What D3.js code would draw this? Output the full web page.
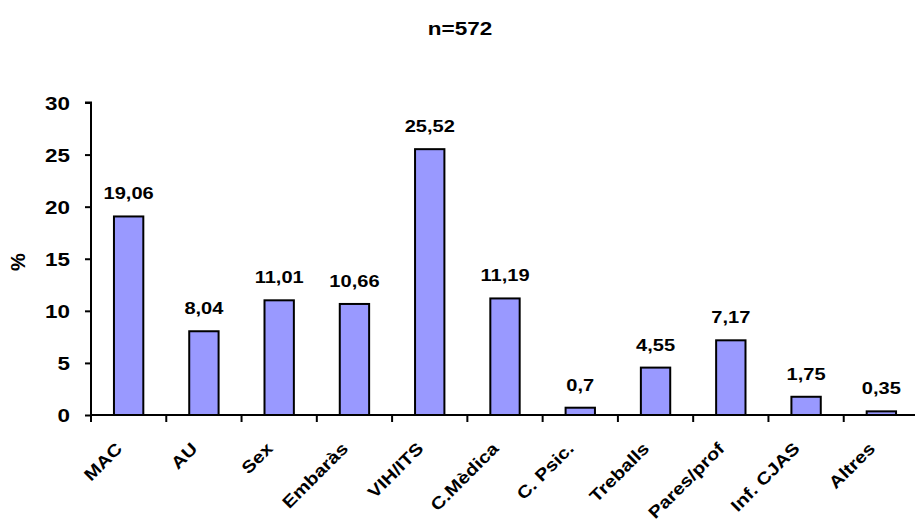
<!DOCTYPE html>
<html>
<head>
<meta charset="utf-8">
<script src="https://cdn.jsdelivr.net/npm/d3@7"></script>
<style>
  html, body { margin: 0; padding: 0; background: #fff; }
  svg { display: block; }
  text { font-family: "Liberation Sans", Arial, sans-serif; font-weight: bold; fill: #000; }
</style>
</head>
<body>
<svg id="chart" width="915" height="522"></svg>
<script>
const categories = ["MAC", "AU", "Sex", "Embaràs", "VIH/ITS", "C.Mèdica", "C. Psic.", "Treballs", "Pares/prof", "Inf. CJAS", "Altres"];
const values = [19.06, 8.04, 11.01, 10.66, 25.52, 11.19, 0.7, 4.55, 7.17, 1.75, 0.35];
const valueLabels = ["19,06", "8,04", "11,01", "10,66", "25,52", "11,19", "0,7", "4,55", "7,17", "1,75", "0,35"];
const yTicks = [0, 5, 10, 15, 20, 25, 30];
const title = "n=572";
const yTitle = "%";

const SX = 1.18; // horizontal stretch of the reference text
const svg = d3.select("#chart");
const x0 = 91, x1 = 919, yTop = 102.5, yBottom = 415;

const x = d3.scaleBand().domain(categories).range([x0, x1]).paddingInner(0.61).paddingOuter(0.305);
const y = d3.scaleLinear().domain([0, 30]).range([yBottom, yTop]);

// title
svg.append("text").attr("transform", `translate(460,35) scale(1.25,1)`).attr("text-anchor", "middle")
  .style("font-size", "18px").text(title);

// y title
svg.append("text").attr("transform", `translate(25,262) rotate(-90)`).attr("text-anchor", "middle")
  .style("font-size", "20px").text(yTitle);

// bars
svg.selectAll("rect.bar").data(values).join("rect").attr("class", "bar")
  .attr("x", (d, i) => x(categories[i]))
  .attr("width", x.bandwidth())
  .attr("y", d => y(d))
  .attr("height", d => y(0) - y(d))
  .attr("fill", "#9999ff").attr("stroke", "#000").attr("stroke-width", 2);

// value labels
svg.selectAll("text.val").data(values).join("text").attr("class", "val")
  .attr("transform", (d, i) => `translate(${x(categories[i]) + x.bandwidth() / 2},${y(d) - 17}) scale(${SX},1)`)
  .attr("text-anchor", "middle")
  .style("font-size", "17px")
  .text((d, i) => valueLabels[i]);

// y axis
const yAxis = d3.axisLeft(y).tickValues(yTicks).tickSize(6).tickPadding(0).tickFormat(d3.format("d"));
const gy = svg.append("g").attr("transform", `translate(${x0},0)`).call(yAxis);
gy.select(".domain").attr("stroke", "#000").attr("stroke-width", 2).attr("d", `M-6,${yTop}H0V${yBottom}`);
gy.selectAll(".tick line").attr("stroke", "#000").attr("stroke-width", 2);
gy.selectAll(".tick text").style("font-size", "19px").style("font-family", "Liberation Sans, Arial, sans-serif").style("font-weight", "bold")
  .attr("x", 0).attr("dy", "0.36em").attr("transform", `translate(-21,0) scale(${SX},1)`);

// x axis
const step = x.step();
const xAxis = d3.axisBottom(x).tickSize(0).tickPadding(0);
const gx = svg.append("g").attr("transform", `translate(0,${yBottom})`).call(xAxis);
gx.select(".domain").attr("stroke", "#000").attr("stroke-width", 2).attr("d", `M${x0},0H${x1}`);
// tick marks between categories
const boundaries = d3.range(categories.length).map(i => x0 + i * step);
gx.selectAll("line.sep").data(boundaries).join("line").attr("class", "sep")
  .attr("x1", d => d).attr("x2", d => d).attr("y1", 0).attr("y2", 7)
  .attr("stroke", "#000").attr("stroke-width", 2);
gx.selectAll(".tick text")
  .style("font-size", "17px").style("font-family", "Liberation Sans, Arial, sans-serif").style("font-weight", "bold")
  .attr("text-anchor", "end")
  .attr("transform", `translate(-14,26) rotate(-45) scale(${SX},1)`)
  .attr("y", 0).attr("dy", "0.72em").attr("x", 0);
</script>
</body>
</html>
